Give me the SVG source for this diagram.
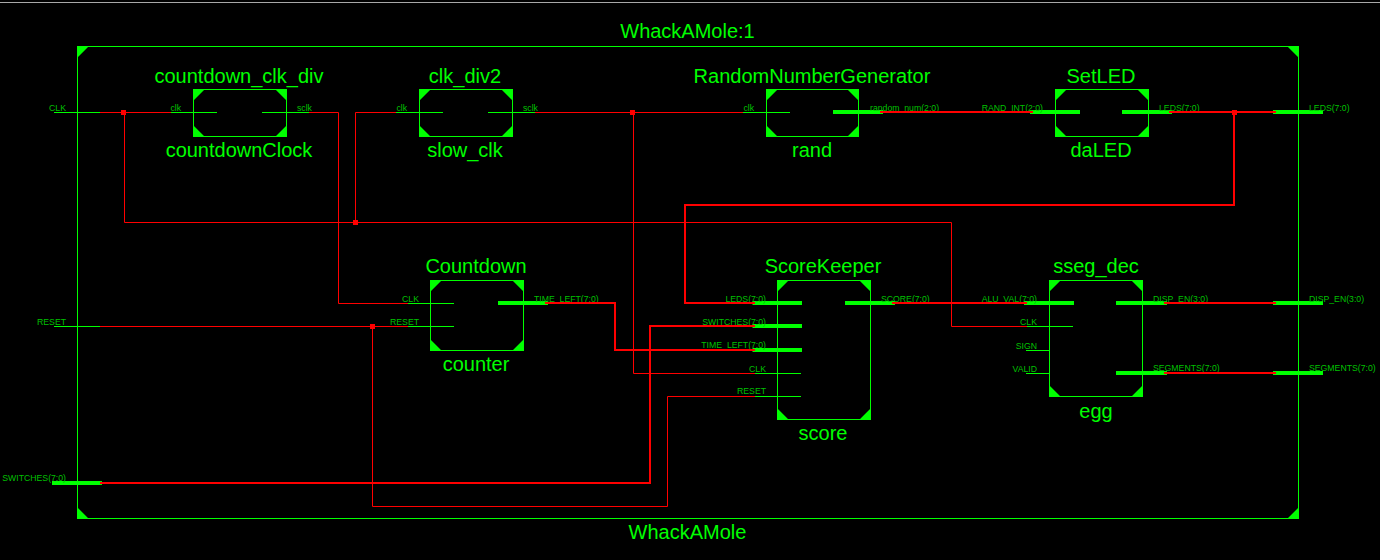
<svg xmlns="http://www.w3.org/2000/svg" width="1380" height="560" viewBox="0 0 1380 560">
<style>
text{font-family:"Liberation Sans",Arial,sans-serif;fill:#00ff00}
.t{font-size:20px;text-anchor:middle}
.l{font-size:8.7px;fill:#00c000}
.e{text-anchor:end}
.box{fill:none;stroke:#00ff00;stroke-width:1}
.cor{fill:#00ff00;stroke:none}
.pin{stroke:#00ff00;stroke-width:1;fill:none}
.bus{stroke:#00ff00;stroke-width:4;fill:none}
.w{stroke:#ff0000;stroke-width:1;fill:none}
.wb{stroke:#ff0000;stroke-width:2;fill:none}
.j{fill:#ff0000}
</style>
<rect width="1380" height="560" fill="#000"/>
<rect x="0" y="2" width="1380" height="1" fill="#a8a8a8"/>
<g id="WhackAMole">
<rect class="box" x="77.5" y="46.5" width="1221" height="472"/>
<path class="cor" d="M77 46h12l-12 12zM1299 46h-12l12 12zM77 519h12l-12-12zM1299 519h-12l12-12z"/>
<text class="t" x="687.500" y="38">WhackAMole:1</text>
<text class="t" x="687.500" y="539">WhackAMole</text>
<path class="pin" d="M54 112.500H100M54 326.500H100"/>
<path class="bus" d="M52 483H102M1273 112H1323M1273 303H1323M1273 373H1323"/>
<text class="l e" x="66" y="111">CLK</text>
<text class="l e" x="66" y="325">RESET</text>
<text class="l e" x="66" y="481">SWITCHES(7:0)</text>
<text class="l" x="1309" y="111">LEDS(7:0)</text>
<text class="l" x="1309" y="302">DISP_EN(3:0)</text>
<text class="l" x="1309" y="371">SEGMENTS(7:0)</text>
</g>
<g id="countdownClock">
<rect class="box" x="193.5" y="89.5" width="93" height="47"/>
<path class="cor" d="M193 89h12l-12 12zM287 89h-12l12 12zM193 137h12l-12-12zM287 137h-12l12-12z"/>
<path class="pin" d="M171 112.500H217M262 112.500H309"/>
<text class="t" x="239" y="83">countdown_clk_div</text>
<text class="t" x="239" y="157">countdownClock</text>
<text class="l e" x="181" y="111">clk</text>
<text class="l" x="297" y="111">sclk</text>
</g>
<g id="slow_clk">
<rect class="box" x="419.5" y="89.5" width="93" height="47"/>
<path class="cor" d="M419 89h12l-12 12zM513 89h-12l12 12zM419 137h12l-12-12zM513 137h-12l12-12z"/>
<path class="pin" d="M396 112.500H443M488 112.500H535"/>
<text class="t" x="465" y="83">clk_div2</text>
<text class="t" x="465" y="157">slow_clk</text>
<text class="l e" x="407" y="111">clk</text>
<text class="l" x="523" y="111">sclk</text>
</g>
<g id="rand">
<rect class="box" x="766.5" y="89.5" width="92" height="47"/>
<path class="cor" d="M766 89h12l-12 12zM859 89h-12l12 12zM766 137h12l-12-12zM859 137h-12l12-12z"/>
<path class="pin" d="M743 112.500H790"/>
<path class="bus" d="M833 112H883"/>
<text class="t" x="812" y="83">RandomNumberGenerator</text>
<text class="t" x="812" y="157">rand</text>
<text class="l e" x="754" y="111">clk</text>
<text class="l" x="870" y="111">random_num(2:0)</text>
</g>
<g id="daLED">
<rect class="box" x="1055.5" y="89.5" width="93" height="47"/>
<path class="cor" d="M1055 89h12l-12 12zM1149 89h-12l12 12zM1055 137h12l-12-12zM1149 137h-12l12-12z"/>
<path class="bus" d="M1030 112H1080M1122 112H1172"/>
<text class="t" x="1101" y="83">SetLED</text>
<text class="t" x="1101" y="157">daLED</text>
<text class="l e" x="1043" y="111">RAND_INT(2:0)</text>
<text class="l" x="1159" y="111">LEDS(7:0)</text>
</g>
<g id="counter">
<rect class="box" x="430.5" y="280.5" width="93" height="70"/>
<path class="cor" d="M430 280h12l-12 12zM524 280h-12l12 12zM430 351h12l-12-12zM524 351h-12l12-12z"/>
<path class="pin" d="M408 303.500H454M408 326.500H454"/>
<path class="bus" d="M498 303H548"/>
<text class="t" x="476" y="273">Countdown</text>
<text class="t" x="476" y="371">counter</text>
<text class="l e" x="419" y="302">CLK</text>
<text class="l e" x="419" y="325">RESET</text>
<text class="l" x="534" y="302">TIME_LEFT(7:0)</text>
</g>
<g id="score">
<rect class="box" x="777.5" y="280.5" width="93" height="139"/>
<path class="cor" d="M777 280h12l-12 12zM871 280h-12l12 12zM777 420h12l-12-12zM871 420h-12l12-12z"/>
<path class="bus" d="M752.500 303H802M752.500 326H802M752.500 350H802M845 303H895"/>
<path class="pin" d="M755 373.500H801M755 396.500H801"/>
<text class="t" x="823" y="273">ScoreKeeper</text>
<text class="t" x="823" y="440">score</text>
<text class="l e" x="766" y="302">LEDS(7:0)</text>
<text class="l e" x="766" y="325">SWITCHES(7:0)</text>
<text class="l e" x="766" y="348">TIME_LEFT(7:0)</text>
<text class="l e" x="766" y="372">CLK</text>
<text class="l e" x="766" y="394">RESET</text>
<text class="l" x="881" y="302">SCORE(7:0)</text>
</g>
<g id="egg">
<rect class="box" x="1049.5" y="280.5" width="93" height="116"/>
<path class="cor" d="M1049 280h12l-12 12zM1143 280h-12l12 12zM1049 397h12l-12-12zM1143 397h-12l12-12z"/>
<path class="bus" d="M1024 303H1074M1116 303H1167M1116 373H1167"/>
<path class="pin" d="M1027 326.500H1073M1026 350.500H1049M1026 373.500H1049"/>
<text class="t" x="1096" y="273">sseg_dec</text>
<text class="t" x="1096" y="418">egg</text>
<text class="l e" x="1037" y="302">ALU_VAL(7:0)</text>
<text class="l e" x="1037" y="325">CLK</text>
<text class="l e" x="1037" y="349">SIGN</text>
<text class="l e" x="1037" y="372">VALID</text>
<text class="l" x="1153" y="302">DISP_EN(3:0)</text>
<text class="l" x="1153" y="371">SEGMENTS(7:0)</text>
</g>
<g id="connectors">
<path class="w" d="M100 112.500H171M124.500 112.500V222.500H951.500V326.500H1027M355.500 222.500V112.500H396"/>
<path class="w" d="M309 112.500H338.500V303.500H408"/>
<path class="w" d="M535 112.500H743M633.500 112.500V373.500H755"/>
<path class="w" d="M100 326.500H408M372.500 326.500V506.500H667.500V396.500H755"/>
<path class="wb" d="M880 112H1033"/>
<path class="wb" d="M1169 112H1276M1234 112V205H685V303H755"/>
<path class="wb" d="M545 303H615V350H755"/>
<path class="wb" d="M100 483H650V326H755"/>
<path class="wb" d="M892 303H1027"/>
<path class="wb" d="M1164 303H1276"/>
<path class="wb" d="M1164 373H1276"/>
<rect class="j" x="121" y="110" width="5" height="5"/>
<rect class="j" x="353" y="220" width="5" height="5"/>
<rect class="j" x="630" y="110" width="5" height="5"/>
<rect class="j" x="1232" y="110" width="5" height="5"/>
<rect class="j" x="370" y="324" width="5" height="5"/>
</g>
</svg>
